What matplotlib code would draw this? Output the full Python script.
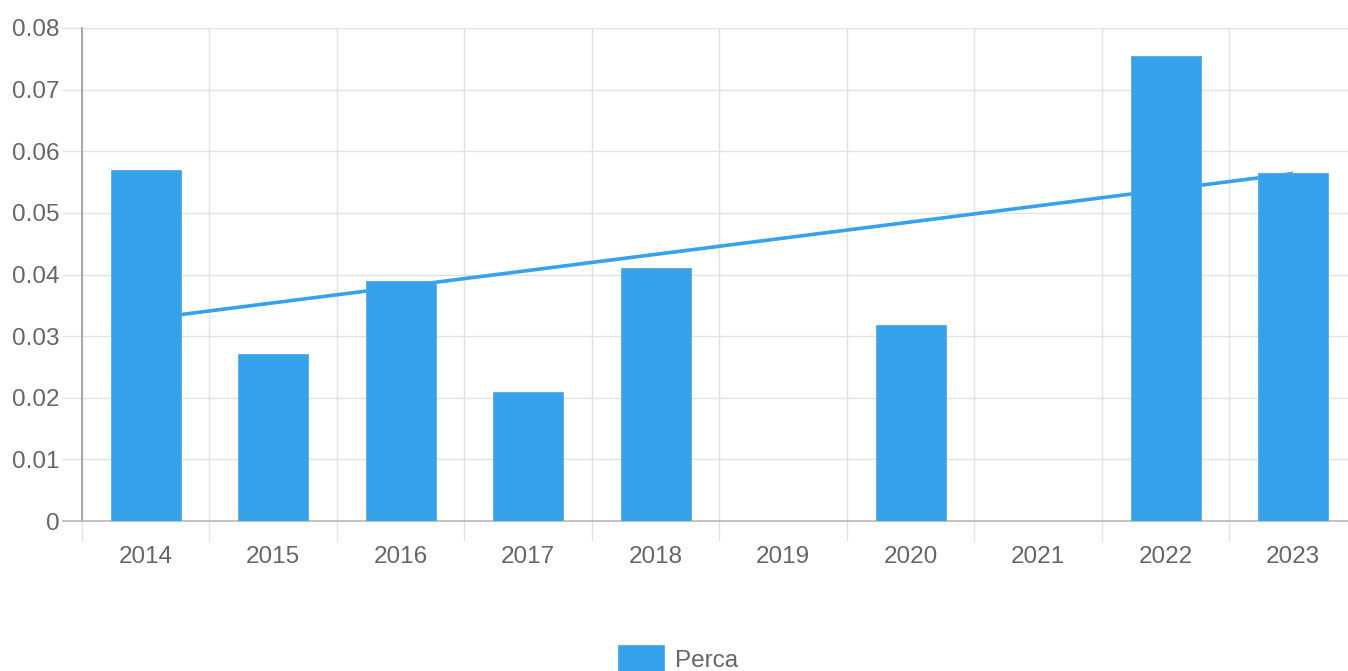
import numpy as np
import matplotlib.pyplot as plt
from matplotlib.patches import Patch

years = ["2014", "2015", "2016", "2017", "2018", "2019", "2020", "2021", "2022", "2023"]
perca = [0.057, 0.0271, 0.0389, 0.0209, 0.0411, 0.0, 0.0318, 0.0, 0.0755, 0.0565]

BLUE = "#36a2eb"
GRID = "#e2e2e2"
TEXT = "#666666"

plt.rcParams["font.family"] = ["Liberation Sans", "DejaVu Sans"]

x = np.arange(len(years))
vals = np.array(perca)

# trend line fitted on the years that have a value
mask = vals > 0
slope, intercept = np.polyfit(x[mask], vals[mask], 1)
trend = slope * x + intercept

fig = plt.figure(figsize=(13.48, 6.71), dpi=100)
ax = fig.add_axes([0.0608, 0.2235, 0.9458, 0.7348])

ax.plot(x, trend, color=BLUE, lw=2.6, zorder=2, solid_capstyle="butt")
ax.bar(x, vals, width=0.55, color=BLUE, edgecolor="#5aa8e0", linewidth=0.6, zorder=3)

ax.set_xlim(-0.5, len(years) - 0.5)
ax.set_ylim(0, 0.08)

ax.set_yticks(np.arange(0, 0.081, 0.01))
ax.set_yticklabels(["0"] + [f"{v:.2f}" for v in np.arange(0.01, 0.081, 0.01)])
ax.set_xticks(x)
ax.set_xticklabels(years)
ax.set_xticks(np.arange(-0.5, len(years), 1.0), minor=True)

ax.tick_params(axis="y", length=14.4, width=1, color=GRID, labelsize=17.5,
               labelcolor=TEXT, pad=2)
ax.tick_params(axis="x", which="major", length=0, labelsize=17.5,
               labelcolor=TEXT, pad=18)
ax.tick_params(axis="x", which="minor", length=14.4, width=1, color=GRID)

ax.grid(True, axis="y", color=GRID, lw=1, zorder=0)
ax.grid(True, axis="x", which="minor", color=GRID, lw=1, zorder=0)
ax.set_axisbelow(True)

for s in ["top", "right"]:
    ax.spines[s].set_visible(False)
ax.spines["left"].set_color("#a8a8a8")
ax.spines["left"].set_linewidth(1.4)
ax.spines["bottom"].set_color("#b8b8b8")
ax.spines["bottom"].set_linewidth(1.2)
ax.spines["bottom"].set_bounds(-0.65, len(years) - 0.5)

handle = Patch(facecolor=BLUE, edgecolor="#5aa8e0", linewidth=0.6)
fig.legend([handle], ["Perca"], loc="center", bbox_to_anchor=(0.503, 0.018),
           frameon=False, fontsize=17.5, labelcolor=TEXT, handlelength=1.9,
           handleheight=1.4, handletextpad=0.45)

fig.savefig("out.png", dpi=100)
